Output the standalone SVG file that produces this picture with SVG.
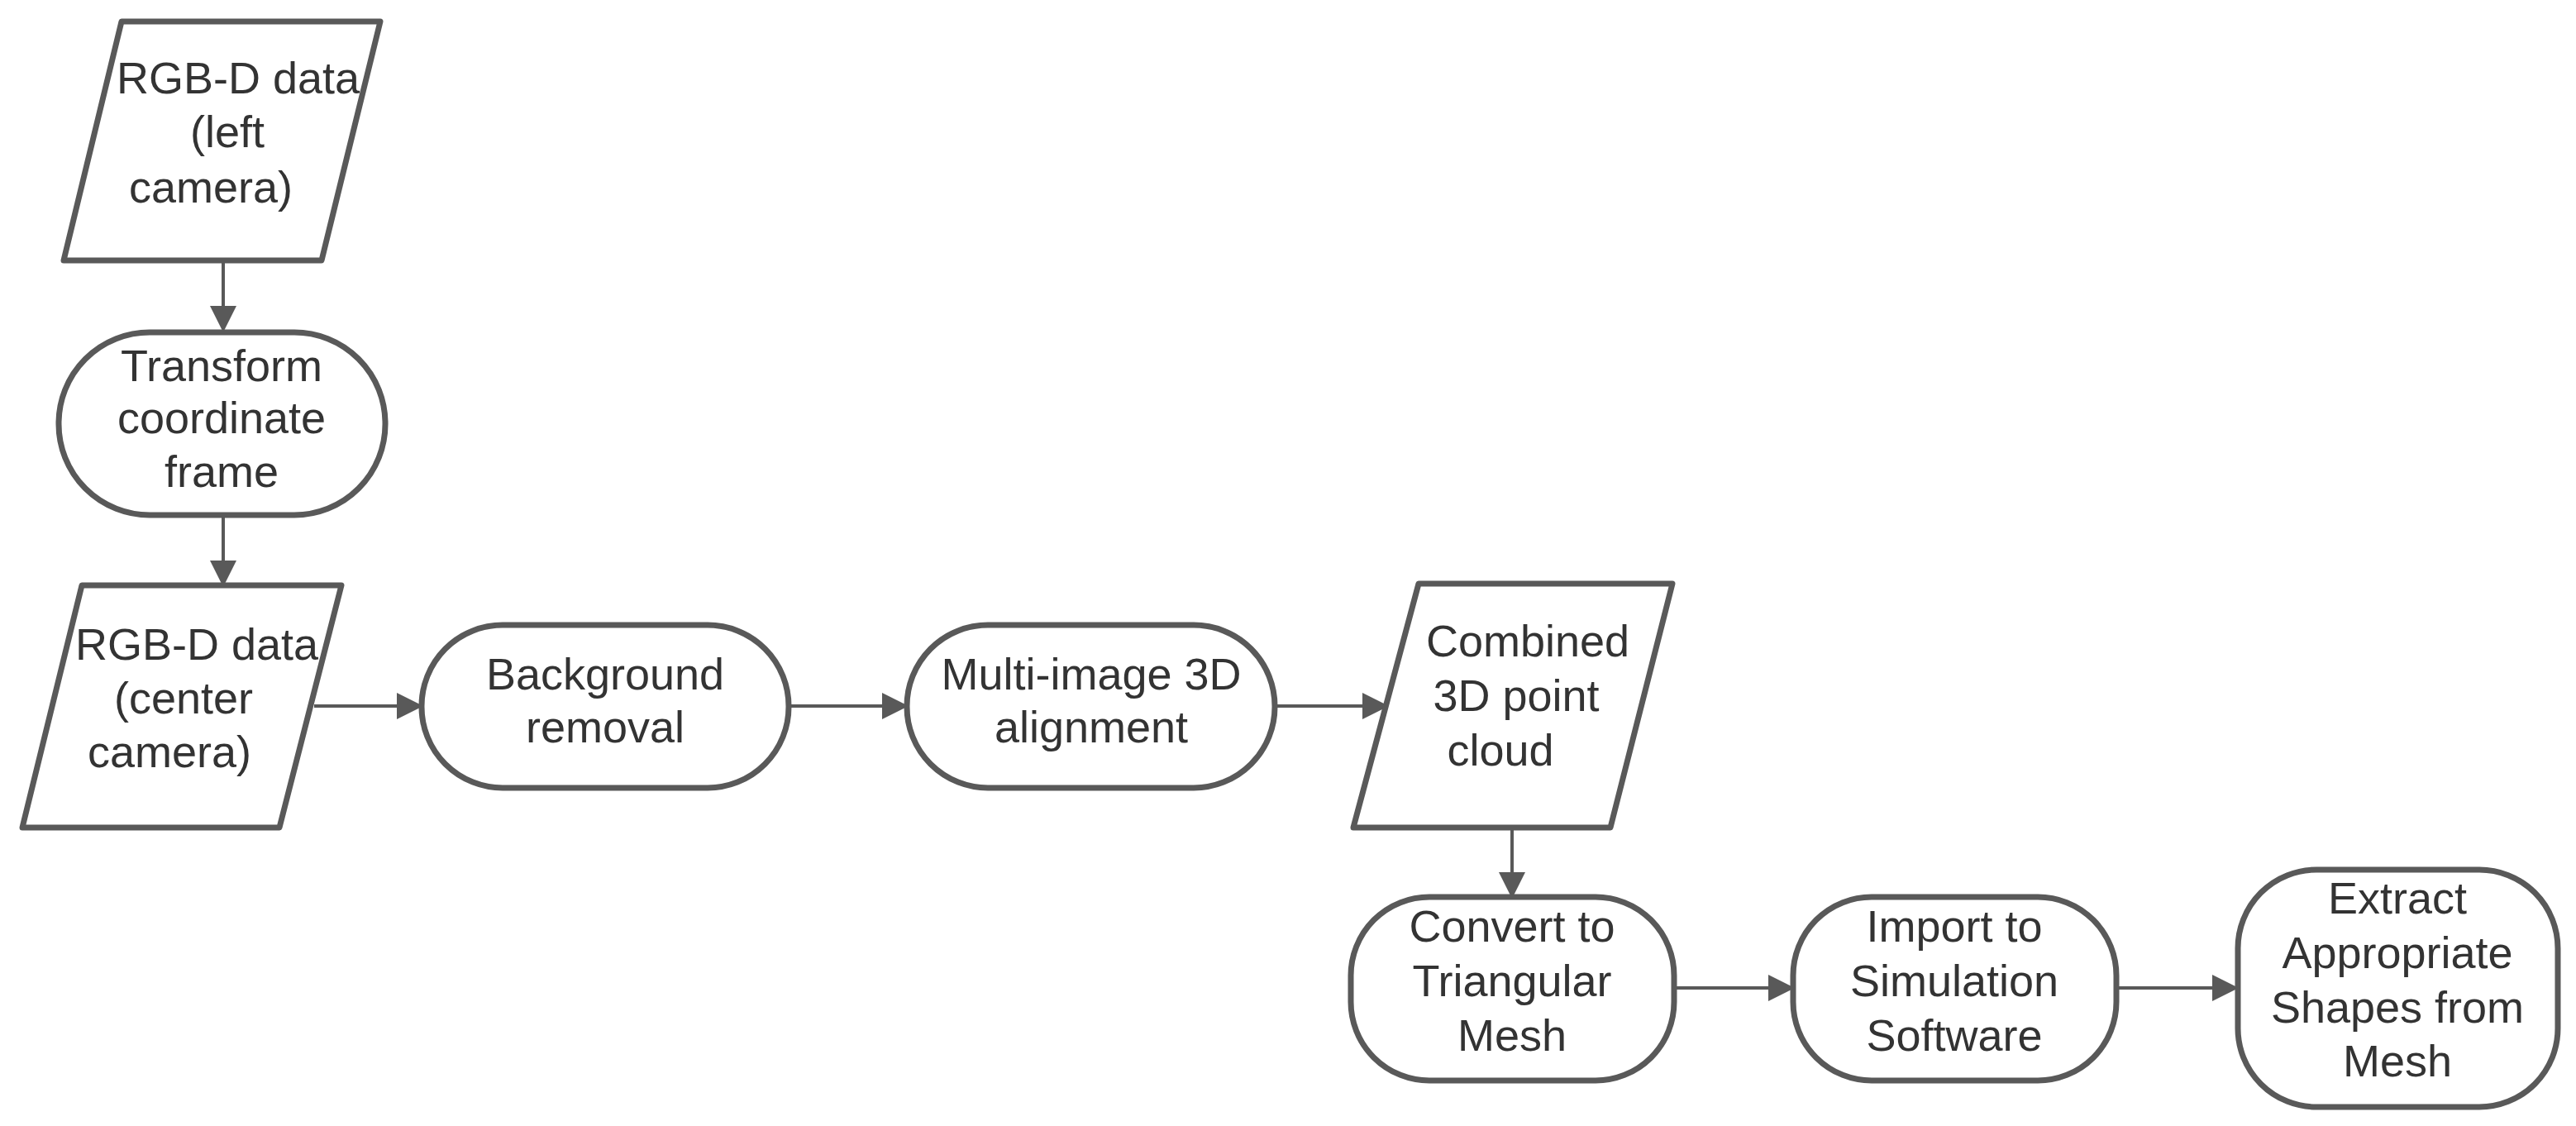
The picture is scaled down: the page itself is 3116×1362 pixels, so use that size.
<svg xmlns="http://www.w3.org/2000/svg" width="3116" height="1362" viewBox="0 0 3116 1362">
<style>
.n{fill:#fff;stroke:#595959;stroke-width:7;stroke-linejoin:round}
.t{font-family:"Liberation Sans",Arial,sans-serif;font-size:54px;fill:#333;text-anchor:middle}
.c{stroke:#595959;stroke-width:4;fill:none}
</style>
<defs><marker id="a" markerWidth="8" markerHeight="8" refX="7" refY="4" orient="auto" markerUnits="strokeWidth"><path d="M0,0L8,4L0,8Z" fill="#595959"/></marker></defs>
<rect width="3116" height="1362" fill="#fff"/>
<g id="connectors">
<path class="c" d="M270,315V398" marker-end="url(#a)"/>
<path class="c" d="M270,623V706" marker-end="url(#a)"/>
<path class="c" d="M380,854H508" marker-end="url(#a)"/>
<path class="c" d="M954,854H1095" marker-end="url(#a)"/>
<path class="c" d="M1542,854H1676" marker-end="url(#a)"/>
<path class="c" d="M1829,1001V1083" marker-end="url(#a)"/>
<path class="c" d="M2025,1195H2167" marker-end="url(#a)"/>
<path class="c" d="M2560,1195H2704" marker-end="url(#a)"/>
</g>
<g id="n1"><path class="n" d="M147,26H460L389,315H77Z"/>
<text class="t" x="288" y="113">RGB-D data</text><text class="t" x="275" y="178">(left</text><text class="t" x="255" y="245">camera)</text></g>
<g id="n2"><rect class="n" x="71" y="402" width="395" height="221" rx="110"/>
<text class="t" x="268" y="461">Transform</text><text class="t" x="268" y="524">coordinate</text><text class="t" x="268" y="589">frame</text></g>
<g id="n3"><path class="n" d="M99,708H413L338,1001H27Z"/>
<text class="t" x="238" y="798">RGB-D data</text><text class="t" x="222" y="863">(center</text><text class="t" x="205" y="928">camera)</text></g>
<g id="n4"><rect class="n" x="510" y="756" width="444" height="197" rx="98"/>
<text class="t" x="732" y="834">Background</text><text class="t" x="732" y="898">removal</text></g>
<g id="n5"><rect class="n" x="1097" y="756" width="445" height="197" rx="98"/>
<text class="t" x="1320" y="834">Multi-image 3D</text><text class="t" x="1320" y="898">alignment</text></g>
<g id="n6"><path class="n" d="M1716,706H2023L1948,1001H1637Z"/>
<text class="t" x="1848" y="794">Combined</text><text class="t" x="1834" y="860">3D point</text><text class="t" x="1815" y="926">cloud</text></g>
<g id="n7"><rect class="n" x="1634" y="1085" width="391" height="222" rx="95"/>
<text class="t" x="1829" y="1139">Convert to</text><text class="t" x="1829" y="1205">Triangular</text><text class="t" x="1829" y="1271">Mesh</text></g>
<g id="n8"><rect class="n" x="2169" y="1085" width="391" height="222" rx="95"/>
<text class="t" x="2364" y="1139">Import to</text><text class="t" x="2364" y="1205">Simulation</text><text class="t" x="2364" y="1271">Software</text></g>
<g id="n9"><rect class="n" x="2707" y="1052" width="387" height="287" rx="95"/>
<text class="t" x="2900" y="1105">Extract</text><text class="t" x="2900" y="1171">Appropriate</text><text class="t" x="2900" y="1237">Shapes from</text><text class="t" x="2900" y="1302">Mesh</text></g>
</svg>
